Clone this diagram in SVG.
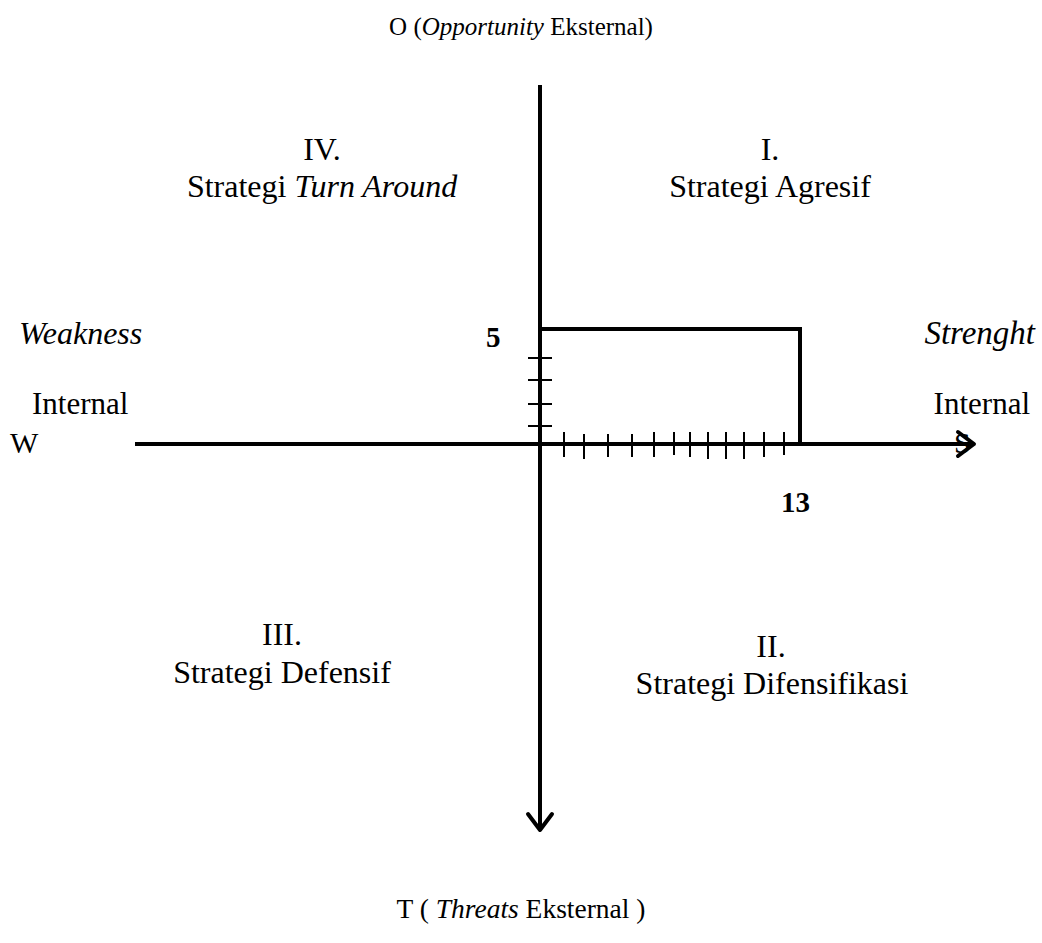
<svg xmlns="http://www.w3.org/2000/svg" width="1042" height="943" viewBox="0 0 1042 943" font-family="'Liberation Serif', 'DejaVu Serif', serif">
  <style>
    text { font-family: 'Liberation Serif', 'DejaVu Serif', serif; fill: #000; }
    .title { font-size: 25px; text-anchor: middle; }
    .quad { font-size: 32px; text-anchor: middle; }
    .side { font-size: 32px; }
    .num { font-size: 29px; font-weight: bold; }
    .axis { stroke: #000; stroke-width: 4; fill: none; }
    .box { stroke: #000; stroke-width: 4; fill: none; }
    .tick { stroke: #000; stroke-width: 2; }
    .head { stroke: #000; stroke-width: 4; fill: none; stroke-linecap: round; stroke-linejoin: round; }
  </style>
  <rect width="1042" height="943" fill="#fff"/>

  <!-- axis titles -->
  <g id="label-opportunity">
    <text class="title" x="521" y="35">O (<tspan font-style="italic">Opportunity</tspan> Eksternal)</text>
  </g>
  <g id="label-threats">
    <text class="title" x="521" y="918" style="font-size:27.5px">T ( <tspan font-style="italic">Threats</tspan> Eksternal )</text>
  </g>
  <g id="label-weakness">
    <text class="side" x="19" y="344" font-style="italic">Weakness</text>
    <text class="side" x="32" y="414" style="font-size:31px">Internal</text>
    <text class="side" x="10" y="453" style="font-size:30px">W</text>
  </g>
  <g id="label-strength">
    <text class="side" x="1035" y="344" font-style="italic" text-anchor="end" style="font-size:33px">Strenght</text>
    <text class="side" x="1030" y="414" text-anchor="end" style="font-size:31px">Internal</text>
    <text class="side" x="954" y="453" style="font-size:30px">S</text>
  </g>

  <!-- quadrants -->
  <g id="quadrant-1">
    <text class="quad" x="770" y="160">I.</text>
    <text class="quad" x="770" y="197">Strategi Agresif</text>
  </g>
  <g id="quadrant-2">
    <text class="quad" x="771" y="657">II.</text>
    <text class="quad" x="772" y="694">Strategi Difensifikasi</text>
  </g>
  <g id="quadrant-3">
    <text class="quad" x="282" y="645">III.</text>
    <text class="quad" x="282" y="683">Strategi Defensif</text>
  </g>
  <g id="quadrant-4">
    <text class="quad" x="322" y="160">IV.</text>
    <text class="quad" x="322" y="197">Strategi <tspan font-style="italic">Turn Around</tspan></text>
  </g>

  <!-- axes and position box -->
  <g id="connectors">
    <line class="axis" x1="540" y1="85" x2="540" y2="830"/>
    <path class="head" d="M528,814 L540,830 L552,814"/>
    <line class="axis" x1="135" y1="444" x2="974" y2="444"/>
    <path class="head" d="M958,432 L974,444 L958,456"/>
  </g>

  <g id="position-box">
    <path class="box" d="M540,329 L800,329 L800,444 L540,444"/>
    <g class="tick">
      <line x1="528" y1="358" x2="552" y2="358"/>
      <line x1="528" y1="380" x2="552" y2="380"/>
      <line x1="528" y1="404" x2="552" y2="404"/>
      <line x1="528" y1="426" x2="552" y2="426"/>
      <line x1="564" y1="432" x2="564" y2="457"/>
      <line x1="584" y1="434" x2="584" y2="459"/>
      <line x1="608" y1="434" x2="608" y2="457"/>
      <line x1="632" y1="434" x2="632" y2="457"/>
      <line x1="654" y1="432" x2="654" y2="457"/>
      <line x1="674" y1="432" x2="674" y2="455"/>
      <line x1="690" y1="432" x2="690" y2="457"/>
      <line x1="708" y1="432" x2="708" y2="459"/>
      <line x1="726" y1="432" x2="726" y2="459"/>
      <line x1="744" y1="432" x2="744" y2="459"/>
      <line x1="764" y1="432" x2="764" y2="457"/>
      <line x1="784" y1="432" x2="784" y2="455"/>
    </g>
    <text class="num" x="486" y="347">5</text>
    <text class="num" x="781" y="512">13</text>
  </g>
</svg>
